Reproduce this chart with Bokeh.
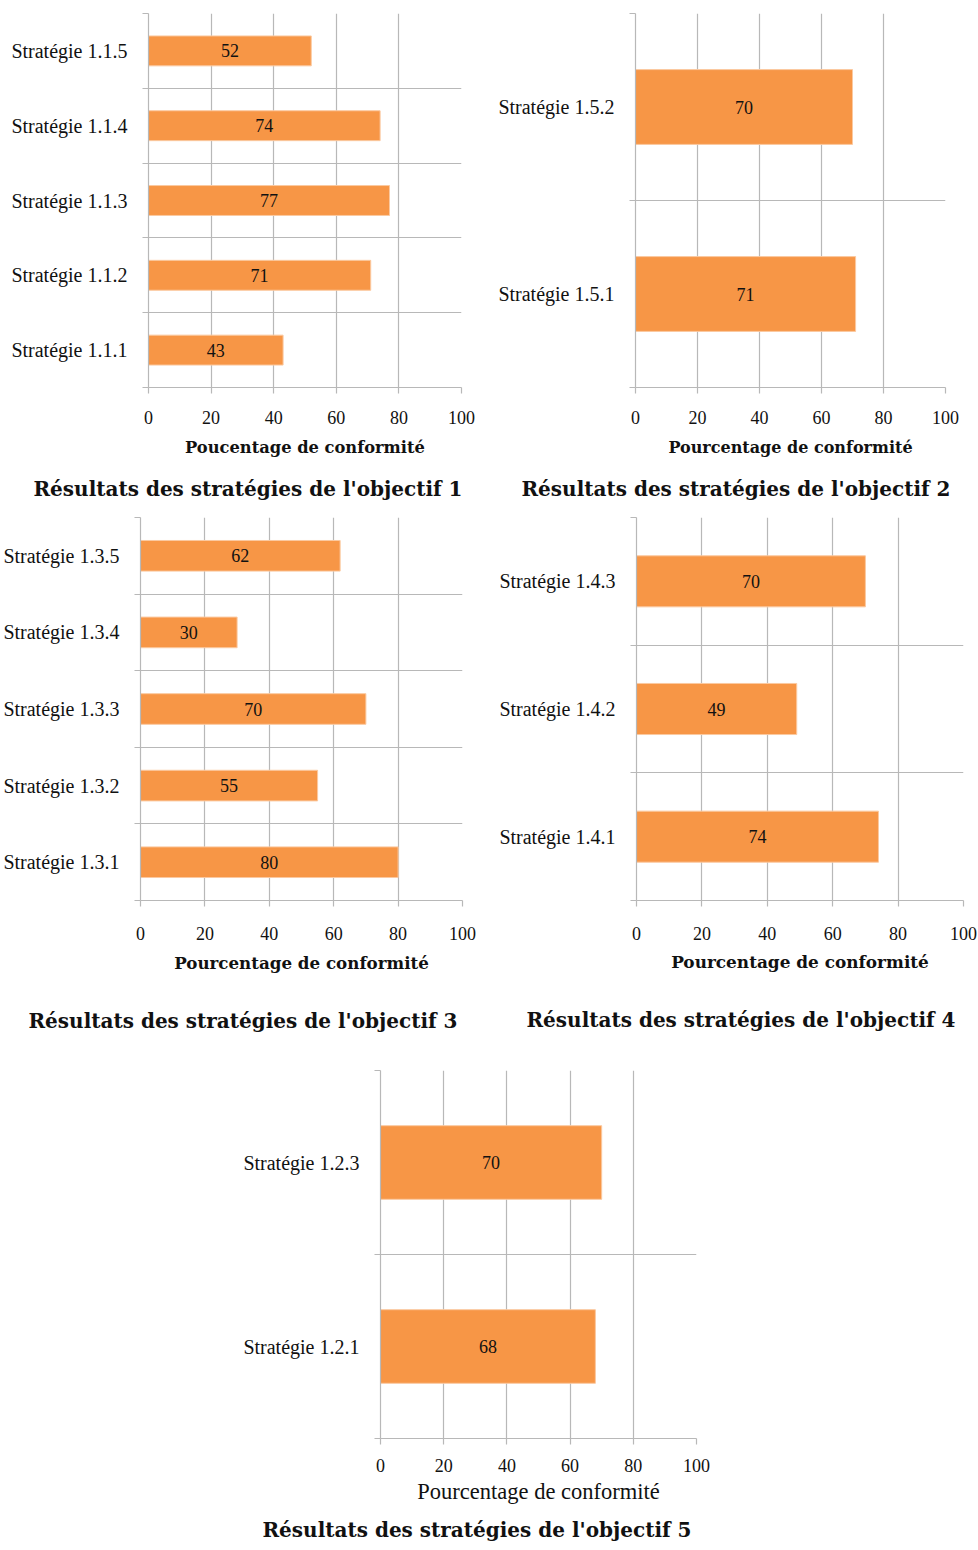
from bokeh.plotting import figure
from bokeh.layouts import column, row
from bokeh.models import Range1d, FixedTicker, Title, Spacer
from bokeh.core.properties import value
from bokeh.embed import file_html
from bokeh.resources import INLINE

# ---------------- data ----------------
x_ticks = [0, 20, 40, 60, 80, 100]

cats_1 = ["Stratégie 1.1.1", "Stratégie 1.1.2", "Stratégie 1.1.3", "Stratégie 1.1.4", "Stratégie 1.1.5"]
vals_1 = [43, 71, 77, 74, 52]
xlabel_1 = "Poucentage de conformité"
title_1 = "Résultats des stratégies de l'objectif 1"

cats_2 = ["Stratégie 1.5.1", "Stratégie 1.5.2"]
vals_2 = [71, 70]
xlabel_2 = "Pourcentage de conformité"
title_2 = "Résultats des stratégies de l'objectif 2"

cats_3 = ["Stratégie 1.3.1", "Stratégie 1.3.2", "Stratégie 1.3.3", "Stratégie 1.3.4", "Stratégie 1.3.5"]
vals_3 = [80, 55, 70, 30, 62]
xlabel_3 = "Pourcentage de conformité"
title_3 = "Résultats des stratégies de l'objectif 3"

cats_4 = ["Stratégie 1.4.1", "Stratégie 1.4.2", "Stratégie 1.4.3"]
vals_4 = [74, 49, 70]
xlabel_4 = "Pourcentage de conformité"
title_4 = "Résultats des stratégies de l'objectif 4"

cats_5 = ["Stratégie 1.2.1", "Stratégie 1.2.3"]
vals_5 = [68, 70]
xlabel_5 = "Pourcentage de conformité"
title_5 = "Résultats des stratégies de l'objectif 5"

# ---------------- style ----------------
REG = "Liberation Serif"
BOLD = "DejaVu Serif"
GRID = "#b8b8b8"
BAR = "#F79646"
BAR_EDGE = "#FBC9A0"
TXT = "#111111"


def make(cats, vals, xlabel, title, width, height, bl, br, bt, bb,
         title_off, title_sd, xlabel_font, xlabel_style, xlabel_size,
         tick_sd, lab_sd):
    n = len(cats)
    ypos = [i + 0.5 for i in range(n)]
    p = figure(width=width, height=height,
               x_range=Range1d(0, 100), y_range=Range1d(0, n),
               output_backend="svg", toolbar_location=None,
               min_border_left=bl, min_border_right=br,
               min_border_top=bt, min_border_bottom=bb)
    p.outline_line_color = None
    p.background_fill_color = "white"
    p.border_fill_color = "white"

    p.hbar(y=ypos, left=0, right=vals, height=0.4,
           fill_color=BAR, line_color=BAR_EDGE, line_width=1)
    p.text(x=[v / 2 for v in vals], y=ypos, text=[str(v) for v in vals],
           text_align="center", text_baseline="middle",
           text_font=value(REG), text_font_size="18px", text_color=TXT)

    # grids
    p.xgrid.ticker = FixedTicker(ticks=x_ticks)
    p.ygrid.ticker = FixedTicker(ticks=list(range(n + 1)))
    for g in (p.xgrid, p.ygrid):
        g.grid_line_color = GRID
        g.grid_line_width = 1.2
        g.grid_line_alpha = 1.0

    # x axis
    xa = p.xaxis[0]
    xa.ticker = FixedTicker(ticks=x_ticks)
    xa.axis_line_color = GRID
    xa.axis_line_width = 1.2
    xa.major_tick_line_color = GRID
    xa.major_tick_line_width = 1.2
    xa.major_tick_out = 6
    xa.major_tick_in = 0
    xa.minor_tick_line_color = None
    xa.major_label_standoff = tick_sd
    xa.major_label_text_font = REG
    xa.major_label_text_font_size = "18px"
    xa.major_label_text_color = TXT
    xa.axis_label = xlabel
    xa.axis_label_standoff = lab_sd
    xa.axis_label_text_font = xlabel_font
    xa.axis_label_text_font_style = xlabel_style
    xa.axis_label_text_font_size = xlabel_size
    xa.axis_label_text_color = TXT

    # y axis (category labels, boundary ticks)
    ya = p.yaxis[0]
    ya.ticker = FixedTicker(ticks=ypos, minor_ticks=list(range(n + 1)))
    ya.major_label_overrides = {y: c for y, c in zip(ypos, cats)}
    ya.axis_line_color = GRID
    ya.axis_line_width = 1.2
    ya.major_tick_line_color = None
    ya.major_tick_out = 0
    ya.major_tick_in = 0
    ya.minor_tick_line_color = GRID
    ya.minor_tick_line_width = 1.2
    ya.minor_tick_out = 6
    ya.minor_tick_in = 0
    ya.major_label_standoff = 15
    ya.major_label_text_font = REG
    ya.major_label_text_font_size = "20px"
    ya.major_label_text_color = TXT

    # caption below the chart
    p.add_layout(Title(text=title, align="left", offset=title_off, standoff=title_sd,
                       text_font=BOLD, text_font_style="bold",
                       text_font_size="20px", text_color=TXT), "below")
    return p


# row 1: height 515
f1 = make(cats_1, vals_1, xlabel_1, title_1, 488, 515, 148, 27, 13, 127,
          -115, 30, BOLD, "bold", "16.3px", 17, 11)
f2 = make(cats_2, vals_2, xlabel_2, title_2, 488, 515, 147, 31, 13, 127,
          -114, 30, BOLD, "bold", "16px", 17, 11)
# row 2: height 548
f3 = make(cats_3, vals_3, xlabel_3, title_3, 488, 548, 140, 26, 2, 159,
          -112, 62, BOLD, "bold", "16.7px", 20, 10)
f4 = make(cats_4, vals_4, xlabel_4, title_4, 490, 548, 148, 15, 1, 160,
          -110, 62, BOLD, "bold", "16.9px", 20, 9)
# row 3: height 487
f5 = make(cats_5, vals_5, xlabel_5, title_5, 486, 487, 140, 30, 7, 112,
          -118, 18, REG, "normal", "22.5px", 14, 4)

layout = column(row(f1, f2), row(f3, f4), row(Spacer(width=240, height=10), f5))

open("out.html", "w").write(file_html(layout, INLINE))
